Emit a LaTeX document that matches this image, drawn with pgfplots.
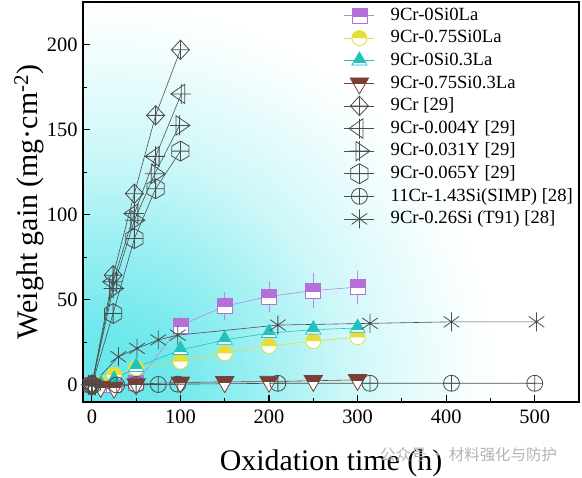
\documentclass[border=0pt]{standalone}
\usepackage{pgfplots}
\pgfplotsset{compat=1.18}
\usepackage{fontspec}
\setmainfont{Liberation Serif}
\newfontfamily\cjk{Noto Sans CJK SC}
\definecolor{purpC}{HTML}{B56FD8}
\definecolor{yelC}{HTML}{E6DE34}
\definecolor{tealC}{HTML}{20C2BC}
\definecolor{brnC}{HTML}{7A4038}
\definecolor{grC}{HTML}{4C4C4C}
\definecolor{bgC}{HTML}{5EE6EA}

\pgfdeclareradialshading{bgshade}{\pgfpoint{0bp}{0bp}}{color(0bp)=(bgC!95!white); color(3.75bp)=(bgC!90!white); color(8.75bp)=(bgC!65!white); color(15bp)=(bgC!30!white); color(18.75bp)=(bgC!17!white); color(21.9bp)=(bgC!6!white); color(24.4bp)=(white); color(50bp)=(white)}

% half-filled square (top filled)
\pgfdeclareplotmark{hsq}{%
  \begin{pgfscope}
  \pgfpathrectangle{\pgfpoint{-\pgfplotmarksize}{-\pgfplotmarksize}}{\pgfpoint{2\pgfplotmarksize}{2\pgfplotmarksize}}%
  \pgfsetfillcolor{white}\pgfusepath{fill,clip}%
  \pgfpathrectangle{\pgfpoint{-\pgfplotmarksize}{-0.15\pgfplotmarksize}}{\pgfpoint{2\pgfplotmarksize}{1.2\pgfplotmarksize}}%
  \pgfsetfillcolor{purpC}\pgfusepath{fill}%
  \end{pgfscope}
  \pgfpathrectangle{\pgfpoint{-\pgfplotmarksize}{-\pgfplotmarksize}}{\pgfpoint{2\pgfplotmarksize}{2\pgfplotmarksize}}%
  \pgfusepath{stroke}%
}
% half-filled circle
\pgfdeclareplotmark{hci}{%
  \begin{pgfscope}
  \pgfpathcircle{\pgfpointorigin}{\pgfplotmarksize}%
  \pgfsetfillcolor{white}\pgfusepath{fill}%
  \pgfpathmoveto{\pgfpoint{\pgfplotmarksize}{0pt}}%
  \pgfpatharc{0}{180}{\pgfplotmarksize}%
  \pgfpathclose
  \pgfsetfillcolor{yelC}\pgfusepath{fill}%
  \end{pgfscope}
  \pgfpathcircle{\pgfpointorigin}{\pgfplotmarksize}%
  \pgfusepath{stroke}%
}
% up triangle, mostly filled, white bottom band
\pgfdeclareplotmark{htri}{%
  \begin{pgfscope}
  \pgfpathmoveto{\pgfpointpolar{90}{1.25\pgfplotmarksize}}%
  \pgfpathlineto{\pgfpointpolar{210}{1.25\pgfplotmarksize}}%
  \pgfpathlineto{\pgfpointpolar{330}{1.25\pgfplotmarksize}}%
  \pgfpathclose
  \pgfsetfillcolor{tealC}\pgfusepath{fill,clip}%
  \pgfpathrectangle{\pgfpoint{-2\pgfplotmarksize}{-2\pgfplotmarksize}}{\pgfpoint{4\pgfplotmarksize}{1.7\pgfplotmarksize}}%
  \pgfsetfillcolor{white}\pgfusepath{fill}%
  \end{pgfscope}
  \pgfpathmoveto{\pgfpointpolar{90}{1.25\pgfplotmarksize}}%
  \pgfpathlineto{\pgfpointpolar{210}{1.25\pgfplotmarksize}}%
  \pgfpathlineto{\pgfpointpolar{330}{1.25\pgfplotmarksize}}%
  \pgfpathclose
  \pgfusepath{stroke}%
}
% down triangle, top filled
\pgfdeclareplotmark{hdtri}{%
  \begin{pgfscope}
  \pgfpathmoveto{\pgfpointpolar{270}{1.25\pgfplotmarksize}}%
  \pgfpathlineto{\pgfpointpolar{30}{1.25\pgfplotmarksize}}%
  \pgfpathlineto{\pgfpointpolar{150}{1.25\pgfplotmarksize}}%
  \pgfpathclose
  \pgfsetfillcolor{white}\pgfusepath{fill,clip}%
  \pgfpathrectangle{\pgfpoint{-2\pgfplotmarksize}{-0.1\pgfplotmarksize}}{\pgfpoint{4\pgfplotmarksize}{2\pgfplotmarksize}}%
  \pgfsetfillcolor{brnC}\pgfusepath{fill}%
  \end{pgfscope}
  \pgfpathmoveto{\pgfpointpolar{270}{1.25\pgfplotmarksize}}%
  \pgfpathlineto{\pgfpointpolar{30}{1.25\pgfplotmarksize}}%
  \pgfpathlineto{\pgfpointpolar{150}{1.25\pgfplotmarksize}}%
  \pgfpathclose
  \pgfusepath{stroke}%
}
% diamond with plus
\pgfdeclareplotmark{dplus}{%
  \pgfpathmoveto{\pgfpoint{0pt}{1.08\pgfplotmarksize}}%
  \pgfpathlineto{\pgfpoint{\pgfplotmarksize}{0pt}}%
  \pgfpathlineto{\pgfpoint{0pt}{-1.08\pgfplotmarksize}}%
  \pgfpathlineto{\pgfpoint{-\pgfplotmarksize}{0pt}}%
  \pgfpathclose
  \pgfpathmoveto{\pgfpoint{-\pgfplotmarksize}{0pt}}\pgfpathlineto{\pgfpoint{\pgfplotmarksize}{0pt}}%
  \pgfpathmoveto{\pgfpoint{0pt}{-1.08\pgfplotmarksize}}\pgfpathlineto{\pgfpoint{0pt}{1.08\pgfplotmarksize}}%
  \pgfusepath{stroke}%
}
% left triangle with plus
\pgfdeclareplotmark{ltplus}{%
  \pgfpathmoveto{\pgfpoint{-1.05\pgfplotmarksize}{0pt}}%
  \pgfpathlineto{\pgfpoint{0.35\pgfplotmarksize}{0.97\pgfplotmarksize}}%
  \pgfpathlineto{\pgfpoint{0.35\pgfplotmarksize}{-0.97\pgfplotmarksize}}%
  \pgfpathclose
  \pgfpathmoveto{\pgfpoint{-1.05\pgfplotmarksize}{0pt}}\pgfpathlineto{\pgfpoint{0.95\pgfplotmarksize}{0pt}}%
  \pgfpathmoveto{\pgfpoint{0pt}{-1.0\pgfplotmarksize}}\pgfpathlineto{\pgfpoint{0pt}{1.0\pgfplotmarksize}}%
  \pgfusepath{stroke}%
}
% right triangle with plus
\pgfdeclareplotmark{rtplus}{%
  \pgfpathmoveto{\pgfpoint{1.05\pgfplotmarksize}{0pt}}%
  \pgfpathlineto{\pgfpoint{-0.35\pgfplotmarksize}{0.97\pgfplotmarksize}}%
  \pgfpathlineto{\pgfpoint{-0.35\pgfplotmarksize}{-0.97\pgfplotmarksize}}%
  \pgfpathclose
  \pgfpathmoveto{\pgfpoint{1.05\pgfplotmarksize}{0pt}}\pgfpathlineto{\pgfpoint{-0.95\pgfplotmarksize}{0pt}}%
  \pgfpathmoveto{\pgfpoint{0pt}{-1.0\pgfplotmarksize}}\pgfpathlineto{\pgfpoint{0pt}{1.0\pgfplotmarksize}}%
  \pgfusepath{stroke}%
}
% hexagon with plus
\pgfdeclareplotmark{hexplus}{%
  \pgfpathmoveto{\pgfpointpolar{90}{\pgfplotmarksize}}%
  \pgfpathlineto{\pgfpointpolar{150}{\pgfplotmarksize}}%
  \pgfpathlineto{\pgfpointpolar{210}{\pgfplotmarksize}}%
  \pgfpathlineto{\pgfpointpolar{270}{\pgfplotmarksize}}%
  \pgfpathlineto{\pgfpointpolar{330}{\pgfplotmarksize}}%
  \pgfpathlineto{\pgfpointpolar{30}{\pgfplotmarksize}}%
  \pgfpathclose
  \pgfpathmoveto{\pgfpoint{-0.866\pgfplotmarksize}{0pt}}\pgfpathlineto{\pgfpoint{0.866\pgfplotmarksize}{0pt}}%
  \pgfpathmoveto{\pgfpoint{0pt}{-\pgfplotmarksize}}\pgfpathlineto{\pgfpoint{0pt}{\pgfplotmarksize}}%
  \pgfusepath{stroke}%
}
% circle with plus
\pgfdeclareplotmark{cplus}{%
  \pgfpathcircle{\pgfpointorigin}{\pgfplotmarksize}%
  \pgfpathmoveto{\pgfpoint{-\pgfplotmarksize}{0pt}}\pgfpathlineto{\pgfpoint{\pgfplotmarksize}{0pt}}%
  \pgfpathmoveto{\pgfpoint{0pt}{-\pgfplotmarksize}}\pgfpathlineto{\pgfpoint{0pt}{\pgfplotmarksize}}%
  \pgfusepath{stroke}%
}
% asterisk with dot
\pgfdeclareplotmark{astd}{%
  \pgfpathmoveto{\pgfpointpolar{90}{\pgfplotmarksize}}\pgfpathlineto{\pgfpointpolar{270}{\pgfplotmarksize}}%
  \pgfpathmoveto{\pgfpointpolar{35}{\pgfplotmarksize}}\pgfpathlineto{\pgfpointpolar{215}{\pgfplotmarksize}}%
  \pgfpathmoveto{\pgfpointpolar{145}{\pgfplotmarksize}}\pgfpathlineto{\pgfpointpolar{325}{\pgfplotmarksize}}%
  \pgfusepath{stroke}%
  \pgfpathcircle{\pgfpointorigin}{0.16\pgfplotmarksize}\pgfusepath{fill}%
}

\begin{document}
\begin{tikzpicture}
\begin{axis}[
  scale only axis, width=496bp, height=400bp,
  xmin=-10, xmax=550, ymin=-10, ymax=225,
  axis on top,
  axis line style={line width=1.5pt, black},
  tick align=inside, tick pos=left,
  xtick={0,100,...,500}, minor x tick num=1,
  ytick={0,50,...,200}, minor y tick num=1,
  major tick length=7bp, minor tick length=4bp,
  every tick/.style={line width=1.2pt, black},
  /pgf/number format/assume math mode=true,
  tick label style={font=\fontsize{20.5}{24}\selectfont},
  xticklabel style={yshift=-4bp},
  yticklabel style={xshift=-2bp},
  xlabel={Oxidation time (h)},
  ylabel={Weight gain (mg\textperiodcentered cm\textsuperscript{-2})},
  label style={font=\fontsize{30}{36}\selectfont},
  xlabel style={at={(axis description cs:0.5,-0.17)}, anchor=base},
  ylabel style={at={(axis description cs:-0.0927,0.5)}, anchor=base},
  legend style={at={(axis description cs:0.526,0.995)}, anchor=north west,
    draw=none, fill=none, inner sep=0pt, row sep=0pt, column sep=16bp,
    font=\fontsize{18.7}{20}\selectfont,
    nodes={inner sep=0pt, text height=16bp, text depth=6.6bp}},
  legend cell align=left,
  legend image code/.code={\draw[mark repeat=2,mark phase=2] plot coordinates {(0bp,0bp) (15bp,0bp) (30bp,0bp)};},
]
\begin{scope}
\clip (rel axis cs:0,0) rectangle (rel axis cs:1,1);
\shade[shading=bgshade] (axis cs:20,-3) circle (400bp);
\end{scope}
\coordinate (sw) at (rel axis cs:0,0);
\coordinate (ne) at (rel axis cs:1,1);

% this work
\addplot[purpC!85, line width=0.6pt, mark=hsq, mark size=7.5bp, mark options={draw=purpC, line width=0.8pt},
  error bars/.cd, y dir=both, y explicit,
  error bar style={purpC!85, line width=0.7pt},
  error mark options={purpC!85, mark size=4.5bp, line width=0.7pt}]
  coordinates {(0,0) +- (0,0) (10,0) +- (0,0) (25,0) +- (0,0) (50,1) +- (0,0) (100,35) +- (0,2.5) (150,46.3) +- (0,5.6) (200,52) +- (0,6.6) (250,55.5) +- (0,7.5) (300,57.5) +- (0,7)};
\addlegendentry{9Cr-0Si0La}
\addplot[yelC, line width=0.6pt, mark=hci, mark size=7.5bp, mark options={draw=yelC, line width=0.8pt}]
  coordinates {(0,0) (10,1) (25,6) (50,9.8) (100,13.7) (150,18.6) (200,22.9) (250,25.8) (300,28)};
\addlegendentry{9Cr-0.75Si0La}
\addplot[tealC, line width=0.6pt, mark=htri, mark size=7bp, mark options={draw=tealC, line width=0.8pt}]
  coordinates {(0,0) (10,0.5) (25,3) (50,10.5) (100,20.5) (150,26.5) (200,30.5) (250,32.5) (300,33.5)};
\addlegendentry{9Cr-0Si0.3La}
\addplot[brnC, line width=0.6pt, mark=hdtri, mark size=8.5bp, mark options={draw=brnC, line width=0.8pt}]
  coordinates {(0,0) (10,-1) (25,-1.5) (50,0.5) (100,1.5) (150,1.8) (200,2) (250,2.5) (300,3)};
\addlegendentry{9Cr-0.75Si0.3La}

% literature
\addplot[grC, line width=0.6pt, mark=dplus, mark size=9bp, mark options={line width=0.8pt}]
  coordinates {(0,0) (24,64.5) (48,112.4) (72,158.4) (100,196.9)};
\addlegendentry{9Cr [29]}
\addplot[grC, line width=0.6pt, mark=ltplus, mark size=10bp, mark options={line width=0.8pt}]
  coordinates {(0,0) (24,60.6) (48,100.7) (72,134.3) (101,171)};
\addlegendentry{9Cr-0.004Y [29]}
\addplot[grC, line width=0.6pt, mark=rtplus, mark size=10bp, mark options={line width=0.8pt}]
  coordinates {(0,0) (24,56.7) (48,96.8) (71,124.1) (99,152.5)};
\addlegendentry{9Cr-0.031Y [29]}
\addplot[grC, line width=0.6pt, mark=hexplus, mark size=10bp, mark options={line width=0.8pt}]
  coordinates {(0,0) (24,42) (48,86) (72,115.3) (100,137.4)};
\addlegendentry{9Cr-0.065Y [29]}
\addplot[grC, line width=0.6pt, mark=cplus, mark size=8bp, mark options={line width=0.8pt}]
  coordinates {(0,0) (28,0) (50,0.3) (75,0.3) (97,0.5) (210,1) (314,1) (406,1) (500,1)};
\addlegendentry{11Cr-1.43Si(SIMP) [28]}
\addplot[grC, line width=0.6pt, mark=astd, mark size=9.5bp, mark options={line width=0.8pt}]
  coordinates {(0,0) (30,16.6) (51,21.5) (75,26.5) (97,29.3) (210,35.2) (314,36.2) (406,37.1) (502,37.1)};
\addlegendentry{9Cr-0.26Si (T91) [28]}
\end{axis}
\node[anchor=west, text=black!30, font=\cjk\fontsize{15.5}{18}\selectfont, inner sep=0pt] at ([shift={(297bp,-53bp)}]sw) {公众号 · 材料强化与防护};
\pgfresetboundingbox
\path ([shift={(-83bp,-75bp)}]sw) rectangle ([shift={(3bp,2bp)}]ne);
\end{tikzpicture}
\end{document}
